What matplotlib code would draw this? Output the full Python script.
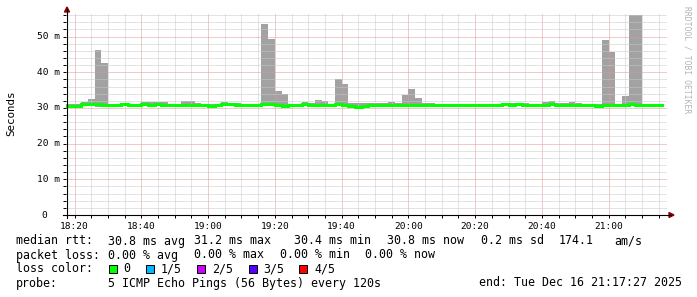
import numpy as np
import pandas as pd
import matplotlib
matplotlib.use("Agg")
import matplotlib.pyplot as plt
import matplotlib.dates as mdates
from matplotlib.lines import Line2D
from matplotlib.patches import Polygon, Rectangle

plt.rcParams['font.family'] = ['DejaVu Sans Mono']

# 2-minute rrd steps, 18:16 .. 21:14 (step start)
steps = pd.date_range('2025-12-16 18:16', periods=90, freq='2min')

rtt_max = [31.1, 31.1, 31.1, 31.7, 32.5, 46.2, 42.6, 31.2, 31.2, 31.2,
           31.0, 31.0, 31.6, 31.6, 31.6, 31.6, 31.0, 31.0, 32.0, 32.0,
           31.4, 31.2, 31.0, 31.2, 31.6, 31.3, 31.3, 31.2, 31.1, 31.0,
           53.5, 49.3, 34.8, 33.9, 31.0, 31.0, 31.6, 31.5, 32.2, 31.9,
           31.0, 38.1, 36.7, 31.3, 31.3, 31.5, 31.5, 31.3, 31.3, 31.6,
           31.4, 33.6, 35.3, 32.8, 31.4, 31.4, 31.2, 31.2, 31.2, 31.2,
           31.1, 31.1, 31.1, 31.1, 31.1, 31.1, 31.3, 31.3, 31.3, 31.3,
           31.1, 31.2, 31.7, 32.0, 31.5, 31.5, 31.7, 31.3, 31.2, 31.2,
           31.2, 49.0, 45.7, 31.2, 33.3, 56.0, 56.0, 31.0, 31.0, 31.0]

rtt_median = [30.6, 30.6, 30.6, 31.0, 31.0, 31.0, 30.8, 30.9, 30.8, 31.0,
              30.8, 30.7, 31.0, 30.9, 31.1, 30.9, 30.8, 30.8, 30.9, 30.9,
              30.9, 30.8, 30.6, 30.7, 31.0, 31.1, 30.9, 30.9, 30.8, 30.8,
              31.0, 31.0, 30.9, 30.6, 30.8, 30.9, 31.0, 30.8, 30.8, 30.7,
              30.8, 31.2, 30.9, 30.5, 30.4, 30.6, 30.8, 30.7, 30.8, 30.8,
              30.8, 30.8, 30.9, 30.8, 30.8, 30.9, 30.9, 30.8, 30.8, 30.8,
              30.8, 30.7, 30.7, 30.7, 30.8, 30.8, 31.0, 30.9, 31.0, 30.9,
              30.7, 30.8, 30.9, 31.0, 30.9, 30.8, 30.9, 30.8, 30.7, 30.8,
              30.6, 30.7, 30.9, 30.8, 30.9, 31.0, 30.7, 30.9, 30.9, 30.9]

rtt_min = [30.3, 30.3, 30.3, 30.6, 30.5, 30.4, 30.4, 30.5, 30.5, 30.6,
           30.5, 30.4, 30.6, 30.6, 30.7, 30.5, 30.5, 30.5, 30.6, 30.6,
           30.6, 30.5, 30.3, 30.4, 30.6, 30.7, 30.6, 30.5, 30.5, 30.5,
           30.6, 30.7, 30.6, 30.3, 30.5, 30.5, 30.6, 30.5, 30.5, 30.4,
           30.5, 30.8, 30.6, 30.2, 30.2, 30.3, 30.5, 30.4, 30.5, 30.5,
           30.5, 30.5, 30.6, 30.5, 30.5, 30.6, 30.6, 30.5, 30.5, 30.5,
           30.5, 30.4, 30.4, 30.4, 30.5, 30.5, 30.6, 30.6, 30.7, 30.6,
           30.4, 30.5, 30.6, 30.6, 30.6, 30.5, 30.6, 30.5, 30.4, 30.5,
           30.3, 30.3, 30.6, 30.5, 30.6, 30.6, 30.4, 30.6, 30.6, 30.6]

y_ticks = [0, 10, 20, 30, 40, 50]
y_labels = ['0', '10 m', '20 m', '30 m', '40 m', '50 m']

legend_rows = [
    [(16, 'median rtt:'), (108, '30.8 ms avg'), (194, '31.2 ms max'),
     (294, '30.4 ms min'), (387, '30.8 ms now'), (481, '0.2 ms sd'),
     (559, '174.1'), (614, 'am/s')],
    [(16, 'packet loss:'), (108, '0.00 % avg'), (194, '0.00 % max'),
     (280, '0.00 % min'), (365, '0.00 % now')],
    [(16, 'loss color:')],
    [(16, 'probe:'), (108, '5 ICMP Echo Pings (56 Bytes) every 120s'),
     (479, 'end: Tue Dec 16 21:17:27 2025')],
]
loss_labels = ['0', '1/5', '2/5', '3/5', '4/5']
loss_colors = ['#00ff00', '#00b8ff', '#cc00ff', '#5500ff', '#ff0000']

W, H = 697, 297
fig = plt.figure(figsize=(W / 100, H / 100), dpi=100)
fig.patch.set_facecolor('white')
left, right, top, bottom = 66, 667, 13, 215
ax = fig.add_axes([left / W, 1 - bottom / H, (right - left) / W, (bottom - top) / H])

x_edges = list(steps) + [steps[-1] + pd.Timedelta('2min')]
ymax = rtt_max + [rtt_max[-1]]
ymin = rtt_min + [rtt_min[-1]]
ymed = rtt_median + [rtt_median[-1]]

ax.fill_between(x_edges, ymin, ymax, step='post', color='#a2a2a2', lw=0, zorder=2)
ax.plot(x_edges, ymed, drawstyle='steps-post', color='#00ff00', lw=2.2, zorder=4,
        solid_joinstyle='miter')

ax.set_xlim(pd.Timestamp('2025-12-16 18:17:27'), pd.Timestamp('2025-12-16 21:17:27'))
ax.set_ylim(0, 56.6)

ax.xaxis.set_major_locator(mdates.MinuteLocator(byminute=[0, 20, 40]))
ax.xaxis.set_minor_locator(mdates.MinuteLocator(byminute=range(0, 60, 5)))
ax.xaxis.set_major_formatter(mdates.DateFormatter('%H:%M'))
ax.set_yticks(y_ticks)
ax.set_yticks(np.arange(0, 57, 2), minor=True)
ax.set_yticklabels([])

ax.grid(which='minor', color='#c8c8c8', ls=(0, (1, 1)), lw=0.72, zorder=3)
ax.grid(which='major', color='#e49696', ls=(0, (1, 1)), lw=0.72, zorder=3)
ax.set_axisbelow(False)
for s in ax.spines.values():
    s.set_visible(False)
ax.tick_params(which='both', direction='out', length=2.2, width=0.7, colors='black',
               labelsize=6.8, pad=2)
ax.tick_params(axis='x', which='major', pad=3)

for v, lab in zip(y_ticks, y_labels):
    xpos = -6 / (right - left) if lab != '0' else -19 / (right - left)
    ax.text(xpos, v, lab, transform=ax.get_yaxis_transform(), ha='right', va='center',
            fontsize=6.8)

# axis lines with arrows
fx = lambda x: x / W
fy = lambda y: 1 - y / H
fig.add_artist(Line2D([fx(67), fx(67)], [fy(218), fy(9)], color='black', lw=0.8))
fig.add_artist(Line2D([fx(63), fx(671)], [fy(215), fy(215)], color='black', lw=0.8))
fig.add_artist(Polygon([(fx(67), fy(7)), (fx(64.5), fy(12)), (fx(69.5), fy(12))],
                       closed=True, color='#8b0000'))
fig.add_artist(Polygon([(fx(674), fy(215)), (fx(669), fy(212.5)), (fx(669), fy(217.5))],
                       closed=True, color='#8b0000'))

fig.text(fx(11), fy(113), 'Seconds', rotation=90, ha='center', va='center', fontsize=7.8)
fig.text(fx(687), fy(60), 'RRDTOOL / TOBI OETIKER', rotation=-90, ha='center',
         va='center', fontsize=5.8, color='#b4b4b4')

row_y = [241, 255, 269, 283]
for y, row in zip(row_y, legend_rows):
    for x, s in row:
        fig.text(fx(x), fy(y), s, ha='left', va='center', fontsize=8.4)

sq_x = [108.5, 146, 197, 248.5, 299]
for x, lab, col in zip(sq_x, loss_labels, loss_colors):
    fig.add_artist(Rectangle((fx(x), fy(273)), 8 / W, 8 / H, facecolor=col,
                             edgecolor='black', lw=0.7))
    fig.text(fx(x + 15), fy(269), lab, ha='left', va='center', fontsize=8.4)

fig.savefig('out.png', dpi=100, facecolor='white')
